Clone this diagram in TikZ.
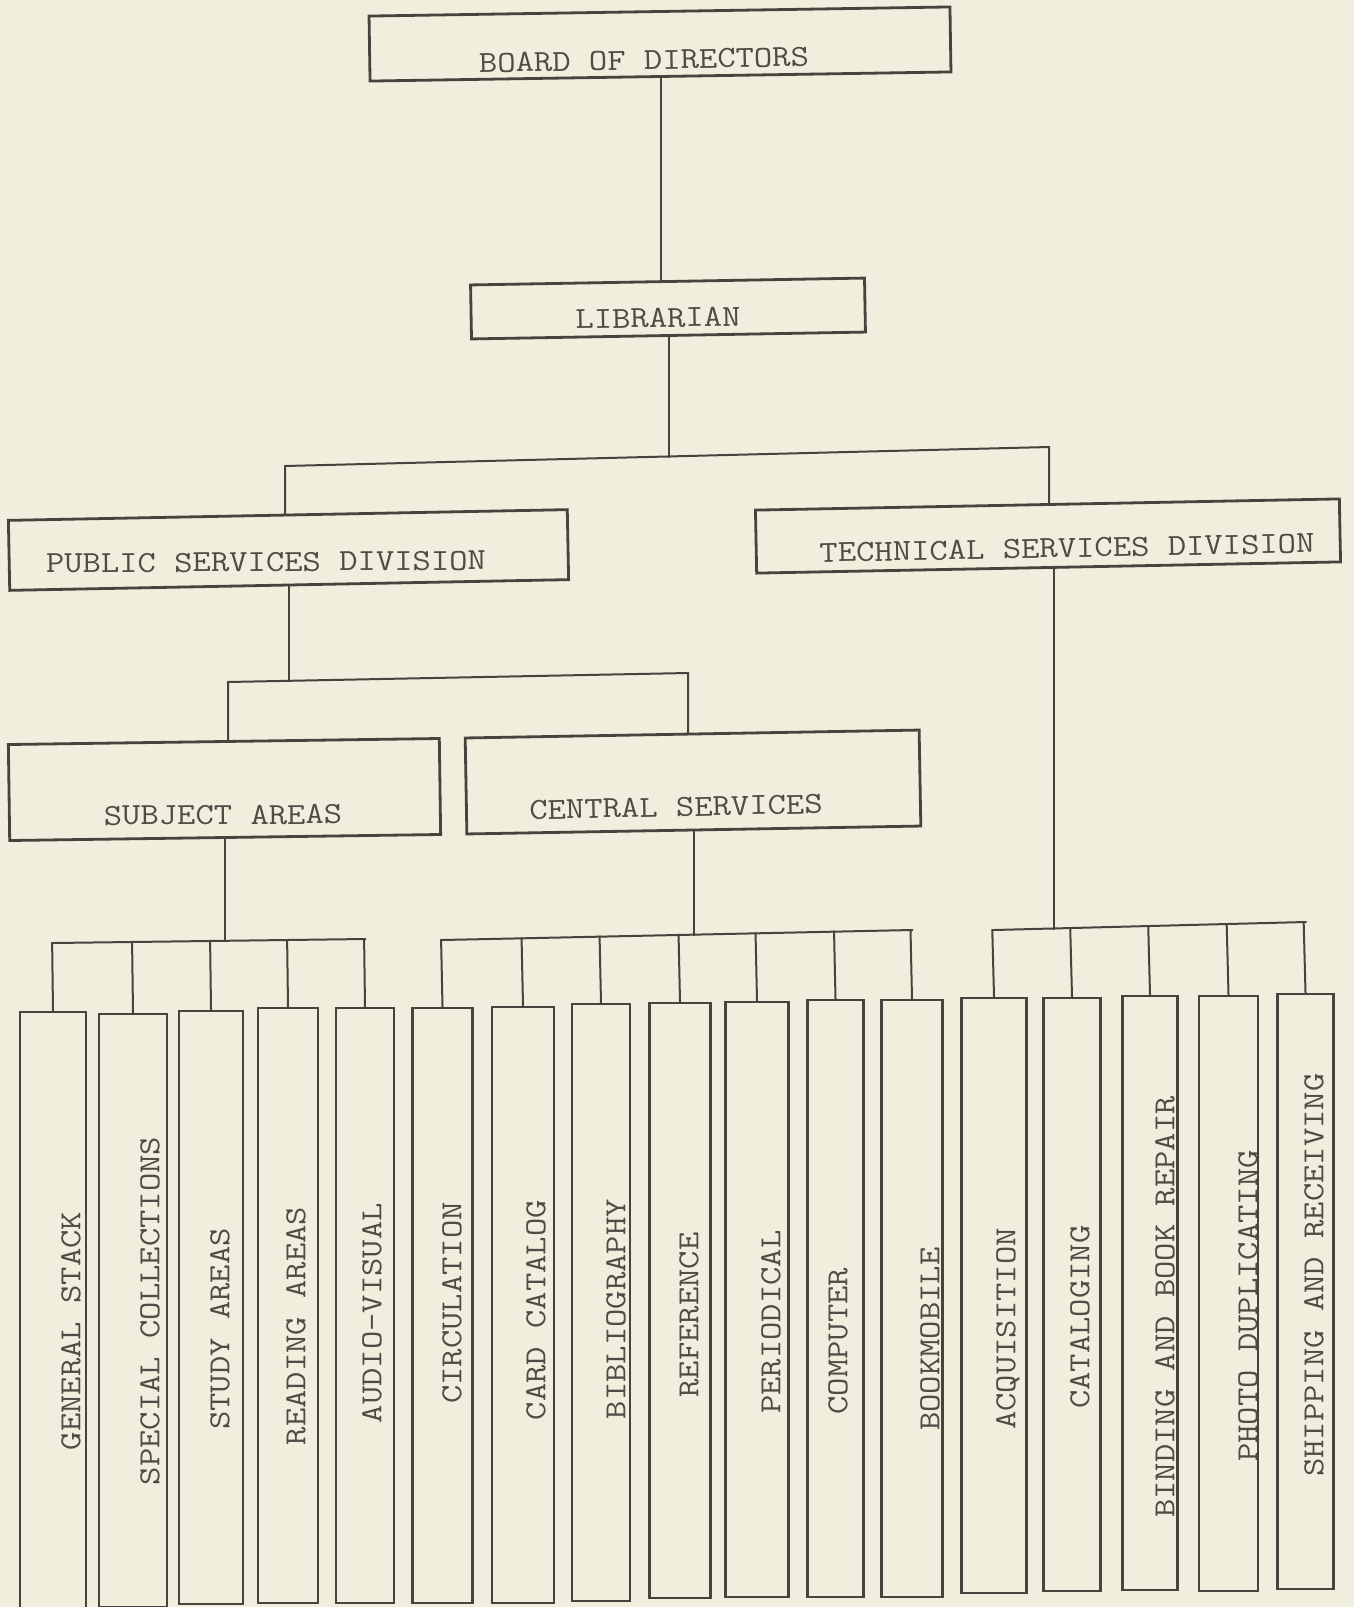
\documentclass[tikz,border=0pt]{standalone}
\usepackage{graphicx}
\usetikzlibrary{calc}
\definecolor{paper}{HTML}{F0EEDD}
\definecolor{ink}{HTML}{46443C}
\definecolor{txt}{HTML}{4E4C44}
\newcommand\sqz[1]{\scalebox{1}[0.86]{#1}}
\begin{document}
\begin{tikzpicture}[x=1pt,y=-1pt,
  box/.style={draw=ink,line width=2.8pt,inner sep=0pt,rectangle},
  lbl/.style={text=txt,inner sep=0pt,font=\ttfamily\fontsize{35.6}{40}\selectfont},
  link/.style={draw=ink,line width=2pt,line cap=rect}]
\useasboundingbox (0,0) rectangle (1354,1607);
\fill[paper] (0,0) rectangle (1354,1607);

% upper levels
\node[box,rotate=0.9,minimum width=581pt,minimum height=65pt] (board) at (660,44) {};
\node[lbl,rotate=1.1] (boardt) at (644,60) {\sqz{BOARD OF DIRECTORS}};
\node[box,rotate=1,minimum width=394pt,minimum height=54pt] (lib) at (668,308.5) {};
\node[lbl,rotate=1] (libt) at (658,318) {\sqz{LIBRARIAN}};
\node[box,rotate=1.1,minimum width=559pt,minimum height=70pt] (pub) at (288.5,550) {};
\node[lbl,rotate=0.4] (pubt) at (266,562) {\sqz{PUBLIC SERVICES DIVISION}};
\node[box,rotate=1.1,minimum width=584pt,minimum height=63pt] (tech) at (1048,536) {};
\node[lbl,rotate=1.1] (techt) at (1067,548) {\sqz{TECHNICAL SERVICES DIVISION}};
\node[box,rotate=0.8,minimum width=431pt,minimum height=96pt] (subj) at (224.5,789.5) {};
\node[lbl,rotate=0.3] (subjt) at (223,815) {\sqz{SUBJECT AREAS}};
\node[box,rotate=1,minimum width=454pt,minimum height=96pt] (cent) at (693,782) {};
\node[lbl,rotate=1.2] (centt) at (676,807) {\sqz{CENTRAL SERVICES}};

% bottom row
\foreach \n/\cx/\w/\cy/\h/\tx/\ty/\s in {
 1/53/66/1311/598/71/1331/GENERAL STACK,
 2/133/68/1310.5/593/150/1311/SPECIAL COLLECTIONS,
 3/211/64/1307.5/593/220/1329/STUDY AREAS,
 4/288/60/1305.5/595/296/1326/READING AREAS,
 5/365/58/1305.5/595/372/1313/AUDIO-VISUAL,
 6/442.5/60/1305.5/595/452/1303/CIRCULATION,
 7/523/62/1305/596/536/1310/CARD CATALOG,
 8/601/58/1302.5/597/616/1309/BIBLIOGRAPHY,
 9/680/61/1300.5/595/689/1315/REFERENCE,
 10/757/63/1299.5/595/771/1322/PERIODICAL,
 11/835.5/56/1298.5/597/838/1341/COMPUTER,
 12/912/61/1298.5/597/930/1339/BOOKMOBILE,
 13/994/65/1295.5/595/1008/1329/ACQUISITION,
 14/1072/56.5/1294.5/593/1080/1317/CATALOGING,
 15/1150/55.5/1293/594/1165/1307/BINDING AND BOOK REPAIR,
 16/1228.5/59/1293.5/595/1248/1306/PHOTO DUPLICATING,
 17/1305.5/56/1291.5/595/1314/1275/SHIPPING AND RECEIVING}
{
  \node[box,minimum width=\w pt,minimum height=\h pt] (b\n) at (\cx,\cy) {};
  \node[lbl,rotate=90] (t\n) at (\tx,\ty) {\sqz{\s}};
}

% connectors
\draw[link] (board.south) -- (board.south |- lib.north);

\coordinate (j1) at (0,457);
\coordinate (barL) at (285,466);
\coordinate (barR) at (1049,447);
\draw[link] (lib.south) -- (lib.south |- j1);
\draw[link] (barL |- pub.north) -- (barL) -- (barR) -- (barR |- tech.north);

\coordinate (j2) at (0,681);
\coordinate (bbL) at (228,682);
\coordinate (bbR) at (688,673);
\draw[link] (pub.south) -- (pub.south |- j2);
\draw[link] (bbL |- subj.north) -- (bbL) -- (bbR) -- (bbR |- cent.north);

\coordinate (sj) at (0,941);
\coordinate (sbL) at (53,943);
\coordinate (sbR) at (365,939);
\draw[link] (subj.south) -- (subj.south |- sj);
\draw[link] (sbL) -- (sbR);
\foreach \n in {1,...,5} \draw[link] (b\n.north) -- ($(sbL)!(b\n.north)!(sbR)$);

\coordinate (cj) at (0,935);
\coordinate (cbL) at (442.5,940);
\coordinate (cbR) at (912,930);
\draw[link] (cent.south) -- (cent.south |- cj);
\draw[link] (cbL) -- (cbR);
\foreach \n in {6,...,12} \draw[link] (b\n.north) -- ($(cbL)!(b\n.north)!(cbR)$);

\coordinate (tj) at (1054,928.5);
\coordinate (tbL) at (994,930);
\coordinate (tbR) at (1305.5,922);
\draw[link] (tj |- tech.south) -- (tj);
\draw[link] (tbL) -- (tbR);
\foreach \n in {13,...,17} \draw[link] (b\n.north) -- ($(tbL)!(b\n.north)!(tbR)$);
\end{tikzpicture}
\end{document}
